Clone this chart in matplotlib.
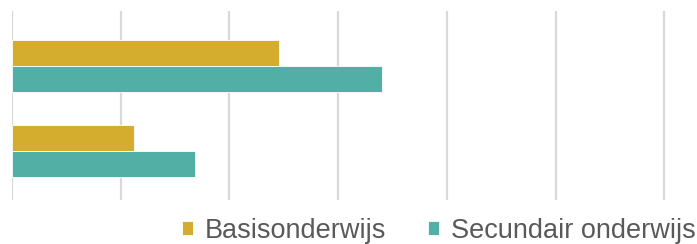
import matplotlib.pyplot as plt
import numpy as np

# groups from bottom to top
groups = ['Groep B', 'Groep A']
basis = [5.6, 12.3]
secundair = [8.4, 17.0]
series_names = ['Basisonderwijs', 'Secundair onderwijs']
gold = '#D4AC2E'
teal = '#52AFA6'

fig = plt.figure(figsize=(6.97, 2.44), dpi=100)
ax = fig.add_axes([12 / 697, 1 - 200 / 244, 1 - 12 / 697, 189 / 244])

y = np.arange(len(groups))
h = 0.31
b1 = ax.barh(y + h / 2, basis, height=h, color=gold, edgecolor='white', linewidth=0.6)
b2 = ax.barh(y - h / 2, secundair, height=h, color=teal, edgecolor='white', linewidth=0.6)

ax.set_xlim(0, 31.5)
ax.set_ylim(-0.576, 1.647)
ax.set_xticks(np.arange(0, 31, 5))
ax.set_yticks([])
ax.tick_params(axis='x', length=0, labelbottom=False)
for s in ax.spines.values():
    s.set_visible(False)
ax.grid(axis='x', color='#D9D9D9', linewidth=1.6)
ax.set_axisbelow(True)

fig.legend([b1, b2], series_names, loc='center left',
           bbox_to_anchor=(182 / 697, 1 - 231 / 244), ncol=2, frameon=False,
           prop={'family': 'Liberation Sans', 'size': 19.5},
           labelcolor='#595959', handlelength=0.4, handleheight=0.4,
           handletextpad=0.45, columnspacing=1.55, borderpad=0, borderaxespad=0)

fig.savefig('out.png', dpi=100)
